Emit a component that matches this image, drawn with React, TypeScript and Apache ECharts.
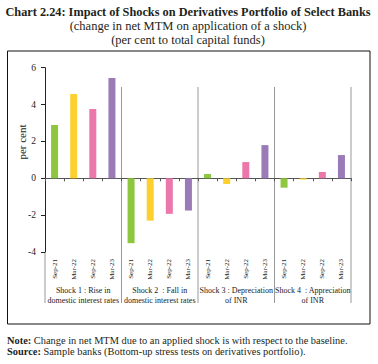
import React, { useEffect, useRef } from 'react';
import * as echarts from 'echarts';

const periods = ['Sep-21', 'Mar-22', 'Sep-22', 'Mar-23'];
const shockLabels = [
  ['Shock 1 : Rise in', 'domestic interest rates'],
  ['Shock 2  : Fall in', 'domestic interest rates'],
  ['Shock 3 : Depreciation', 'of INR'],
  ['Shock 4  : Appreciation', 'of INR'],
];
const shock1 = [2.89, 4.57, 3.76, 5.44];
const shock2 = [-3.52, -2.3, -1.93, -1.75];
const shock3 = [0.23, -0.31, 0.88, 1.8];
const shock4 = [-0.51, -0.07, 0.34, 1.26];
const periodColors = ['#8dc63f', '#fcd12f', '#ec77ab', '#9a7bb8'];
const yTicks = { min: -4, max: 6, interval: 2 };

const titleText = 'Chart 2.24: Impact of Shocks on Derivatives Portfolio of Select Banks';
const subtitle1 = '(change in net MTM on application of a shock)';
const subtitle2 = '(per cent to total capital funds)';
const noteText = 'Change in net MTM due to an applied shock is with respect to the baseline.';
const sourceText = 'Sample banks (Bottom-up stress tests on derivatives portfolio).';

const FONT = 'Liberation Serif';

export default function App() {
  const ref = useRef<HTMLDivElement>(null);
  useEffect(() => {
    if (!ref.current) return;
    const chart = echarts.init(ref.current, null, { renderer: 'svg' });
    const allShocks = [shock1, shock2, shock3, shock4];
    const categories: string[] = [];
    const data: any[] = [];
    allShocks.forEach((vals, s) => {
      vals.forEach((v, p) => {
        categories.push(`s${s + 1}|${periods[p]}`);
        data.push({ value: v, itemStyle: { color: periodColors[p] } });
      });
    });
    chart.setOption({
      animation: false,
      grid: { left: 45, right: 27, top: 67.7, bottom: 112 },
      xAxis: {
        type: 'category',
        data: categories,
        axisLine: { onZero: true, lineStyle: { color: '#555', width: 1 } },
        axisTick: { show: true, length: 3, lineStyle: { color: '#555' } },
        axisLabel: {
          rotate: 90,
          interval: 0,
          fontFamily: FONT,
          fontSize: 7,
          color: '#222',
          margin: 7,
          formatter: (v: string) => v.split('|')[1],
        },
        splitLine: { show: false },
      },
      yAxis: {
        type: 'value',
        min: yTicks.min,
        max: yTicks.max,
        interval: yTicks.interval,
        axisLine: { show: true, lineStyle: { color: '#222' } },
        axisTick: { show: true, length: 4, lineStyle: { color: '#222' } },
        axisLabel: { fontFamily: FONT, fontSize: 9.5, color: '#222', margin: 9 },
        splitLine: { show: false },
      },
      series: [
        {
          type: 'bar',
          data,
          barWidth: 7,
        },
      ],
    });

    const x0 = chart.convertToPixel({ xAxisIndex: 0 }, 0) as number;
    const x1 = chart.convertToPixel({ xAxisIndex: 0 }, 1) as number;
    const band = x1 - x0;
    const yBottom = chart.convertToPixel({ yAxisIndex: 0 }, yTicks.min) as number;
    const graphics: any[] = [];
    graphics.push({
      type: 'rect',
      shape: { x: 7.5, y: 51, width: 362.5, height: 273 },
      style: { fill: 'none', stroke: '#111', lineWidth: 1 },
      silent: true,
    });
    graphics.push({
      type: 'line',
      shape: { x1: x0 - band / 2, y1: yBottom, x2: x0 - band / 2, y2: 303 },
      style: { stroke: '#999', lineWidth: 1 },
    });
    for (let g = 0; g < 4; g++) {
      const bx = (chart.convertToPixel({ xAxisIndex: 0 }, g * 4 + 3) as number) + band / 2;
      graphics.push({
        type: 'line',
        shape: { x1: bx, y1: 87, x2: bx, y2: 303 },
        style: { stroke: '#999', lineWidth: 1 },
      });
      const cx = ((chart.convertToPixel({ xAxisIndex: 0 }, g * 4) as number) + (chart.convertToPixel({ xAxisIndex: 0 }, g * 4 + 3) as number)) / 2;
      graphics.push({
        type: 'text',
        x: cx,
        y: 286,
        style: {
          text: shockLabels[g].join('\n'),
          align: 'center',
          verticalAlign: 'top',
          font: `8px "${FONT}"`,
          fill: '#222',
          lineHeight: 9.5,
        },
      });
    }
    graphics.push({
      type: 'text',
      x: 22,
      y: 142,
      rotation: Math.PI / 2,
      style: { text: 'per cent', align: 'center', verticalAlign: 'middle', font: `11px "${FONT}"`, fill: '#222' },
    });
    graphics.push({
      type: 'text', x: 188, y: 12,
      style: { text: titleText, align: 'center', verticalAlign: 'middle', font: `bold 12.3px "${FONT}"`, fill: '#231f20' },
    });
    graphics.push({
      type: 'text', x: 188, y: 26,
      style: { text: subtitle1, align: 'center', verticalAlign: 'middle', font: `12.5px "${FONT}"`, fill: '#231f20' },
    });
    graphics.push({
      type: 'text', x: 188, y: 40,
      style: { text: subtitle2, align: 'center', verticalAlign: 'middle', font: `12.5px "${FONT}"`, fill: '#231f20' },
    });
    graphics.push({
      type: 'text', x: 7, y: 340,
      style: {
        text: '{b|Note:} ' + noteText,
        verticalAlign: 'middle',
        font: `10.4px "${FONT}"`,
        fill: '#231f20',
        rich: { b: { fontWeight: 'bold', fontFamily: FONT, fontSize: 10.4, fill: '#231f20' } },
      },
    });
    graphics.push({
      type: 'text', x: 7, y: 351,
      style: {
        text: '{b|Source:} ' + sourceText,
        verticalAlign: 'middle',
        font: `10.4px "${FONT}"`,
        fill: '#231f20',
        rich: { b: { fontWeight: 'bold', fontFamily: FONT, fontSize: 10.4, fill: '#231f20' } },
      },
    });
    chart.setOption({ graphic: { elements: graphics } });
    return () => chart.dispose();
  }, []);
  return (
    <div
      ref={ref}
      style={{ position: 'fixed', left: 0, top: 0, width: 378, height: 364, background: '#fff' }}
    />
  );
}
